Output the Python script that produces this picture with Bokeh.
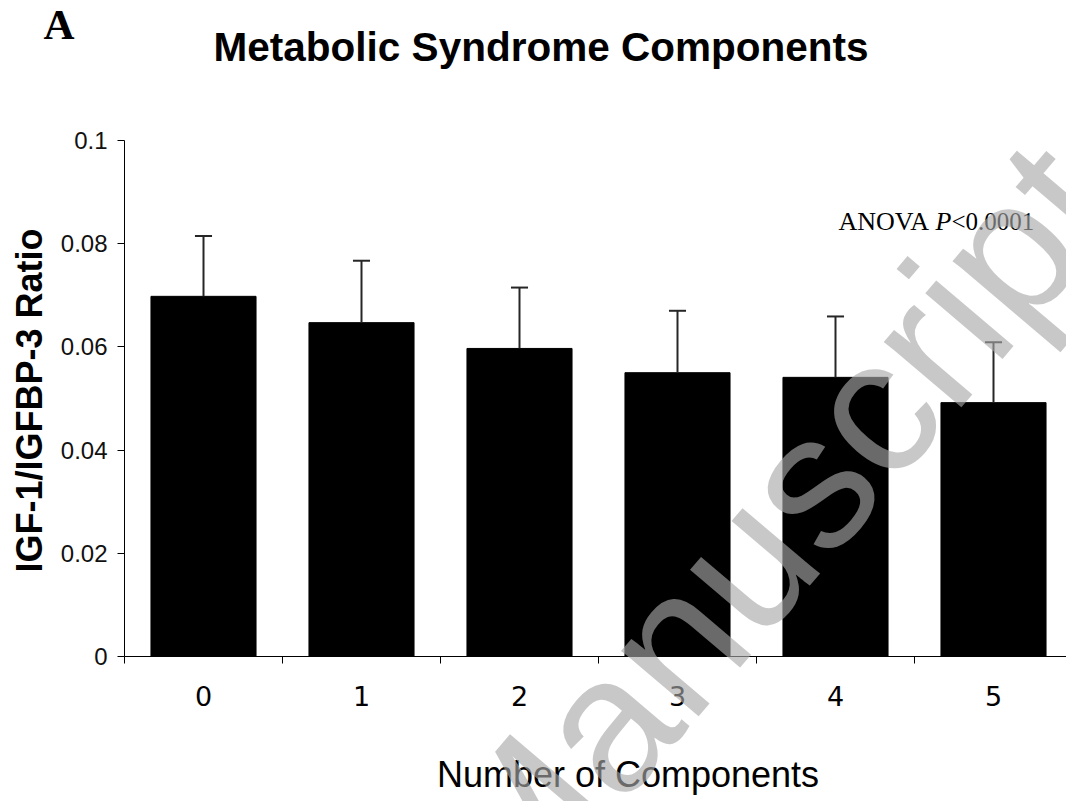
import numpy as np
from bokeh.plotting import figure
from bokeh.models import Range1d, FixedTicker, Label, ColumnDataSource
from bokeh.embed import file_html
from bokeh.resources import INLINE

# ---- data ----
categories = [0, 1, 2, 3, 4, 5]
category_labels = ["0", "1", "2", "3", "4", "5"]
ratio_mean = [0.0698, 0.0647, 0.0597, 0.0550, 0.0541, 0.0492]
ratio_sd = [0.0117, 0.0120, 0.0118, 0.0120, 0.0118, 0.0117]
y_ticks = [0, 0.02, 0.04, 0.06, 0.08, 0.1]
y_tick_labels = ["0", "0.02", "0.04", "0.06", "0.08", "0.1"]
title_text = "Metabolic Syndrome Components"
panel_letter = "A"
y_label = "IGF-1/IGFBP-3 Ratio"
x_label = "Number of Components"
note_parts = ["ANOVA", "P", "<0.0001"]
watermark = "Manuscript"

# ---- layout helpers (canvas pixel -> data) ----
W, H = 1066, 801
X0_PX, CAT_PX = 124.0, 158.0
Y0_PX, YTOP_PX = 656.0, 140.0
def dx(px):
    return (px - X0_PX) / CAT_PX - 0.5
def dy(py):
    return (Y0_PX - py) / (Y0_PX - YTOP_PX) * 0.1

p = figure(width=W, height=H, output_backend="svg", toolbar_location=None,
           x_range=Range1d(dx(0), dx(W)), y_range=Range1d(dy(H), dy(0)),
           min_border_left=0, min_border_right=0, min_border_top=0,
           min_border_bottom=0)
p.outline_line_color = None
p.xgrid.visible = False
p.ygrid.visible = False
p.background_fill_color = "white"

src = ColumnDataSource(dict(
    x=categories, top=ratio_mean,
    up=[m + s for m, s in zip(ratio_mean, ratio_sd)],
    cl=[c - 0.054 for c in categories], cr=[c + 0.054 for c in categories]))

p.vbar(x="x", top="top", bottom=0, width=0.665, source=src,
       fill_color="black", line_color="black", line_width=1)
p.segment(x0="x", y0="top", x1="x", y1="up", source=src, line_color="#262626", line_width=2)
p.segment(x0="cl", y0="up", x1="cr", y1="up", source=src, line_color="#262626", line_width=2)

# x axis
xa = p.xaxis[0]
xa.fixed_location = 0
xa.bounds = (-0.5, 5.5)
xa.ticker = FixedTicker(ticks=categories, minor_ticks=[c - 0.5 for c in categories] + [5.5])
xa.major_label_overrides = {c: l for c, l in zip(categories, category_labels)}
xa.major_tick_out = 0
xa.major_tick_in = 0
xa.minor_tick_out = 7
xa.minor_tick_in = 0
xa.minor_tick_line_color = "black"
xa.axis_line_color = "black"
xa.major_label_text_font = "DejaVu Sans"
xa.major_label_text_font_size = "27px"
xa.major_label_text_color = "black"
xa.major_label_standoff = 22

# y axis
ya = p.yaxis[0]
ya.fixed_location = -0.5
ya.bounds = (0, 0.1)
ya.ticker = FixedTicker(ticks=y_ticks, minor_ticks=[])
ya.major_label_overrides = {t: l for t, l in zip(y_ticks, y_tick_labels)}
ya.major_tick_out = 7
ya.major_tick_in = 0
ya.axis_line_color = "black"
ya.major_tick_line_color = "black"
ya.major_label_text_font = "Liberation Sans"
ya.major_label_text_font_size = "24px"
ya.major_label_text_color = "#111111"
ya.major_label_standoff = 10

# texts (anchor = vertical centre of the text box)
p.add_layout(Label(x=dx(540.5), y=dy(46), text=title_text, text_align="center",
                   text_baseline="middle", text_font="Liberation Sans",
                   text_font_style="bold", text_font_size="40.5px", text_color="black"))
p.add_layout(Label(x=dx(43), y=dy(24), text=panel_letter, text_align="left",
                   text_baseline="middle", text_font="Liberation Serif",
                   text_font_style="bold", text_font_size="43px", text_color="black"))
p.add_layout(Label(x=dx(29), y=dy(400), text=y_label, angle=np.pi / 2,
                   text_align="center", text_baseline="middle", text_font="Liberation Sans",
                   text_font_style="bold", text_font_size="36px", text_color="black"))
p.add_layout(Label(x=dx(627.5), y=dy(774), text=x_label, text_align="center",
                   text_baseline="middle", text_font="Liberation Sans",
                   text_font_size="36px", text_color="black"))

# ANOVA annotation
p.add_layout(Label(x=dx(838), y=dy(221), text=note_parts[0], text_align="left",
                   text_baseline="middle", text_font="Liberation Serif",
                   text_font_size="26px", text_color="black"))
p.add_layout(Label(x=dx(935), y=dy(221), text=note_parts[1], text_align="left",
                   text_baseline="middle", text_font="Liberation Serif",
                   text_font_style="italic", text_font_size="26px", text_color="black"))
p.add_layout(Label(x=dx(951), y=dy(221), text=note_parts[2], text_align="left",
                   text_baseline="middle", text_font="Liberation Serif",
                   text_font_size="25px", text_color="black"))

# watermark
p.add_layout(Label(x=dx(466), y=dy(886), text=watermark, angle=0.866,
                   text_align="left", text_baseline="alphabetic",
                   text_font="Liberation Sans", text_font_size="192px",
                   text_color="#a8a8a8", text_alpha=0.63))

open("out.html", "w").write(file_html(p, INLINE))
